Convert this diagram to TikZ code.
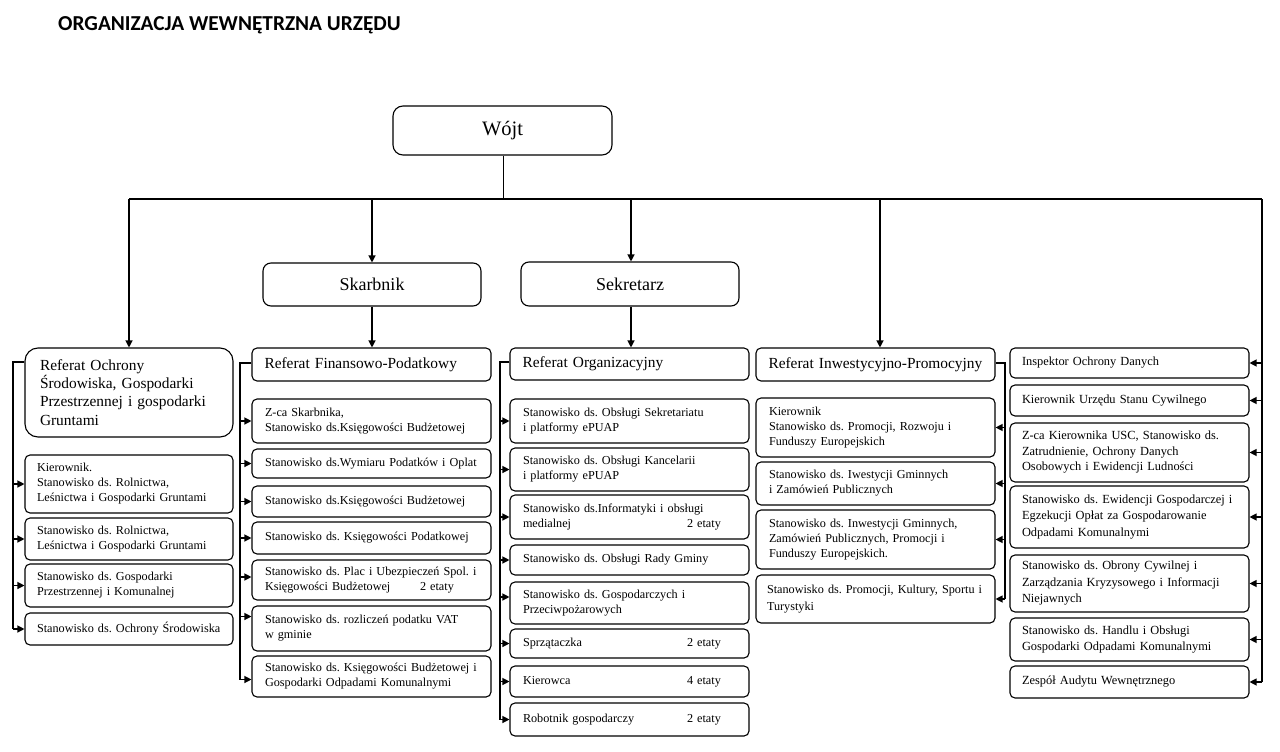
\documentclass[tikz,border=0pt]{standalone}
\usepackage{fontspec}
\setmainfont{Liberation Serif}
\newfontfamily\titlefont{Carlito}
\usetikzlibrary{arrows.meta}
\tikzset{
  bx/.style={draw, line width=1.1pt, rounded corners=5pt, inner ysep=0pt, align=left, anchor=center},
  sub/.style={bx, font=\fontsize{12.2}{15}\selectfont\frenchspacing},
  c1/.style={sub, inner xsep=12pt, text width=184pt},
  cw/.style={sub, inner xsep=13pt, text width=213pt},
  c5/.style={sub, inner xsep=12pt, text width=215pt, font=\fontsize{12.4}{16.5}\selectfont\frenchspacing},
  hdr/.style={bx, inner xsep=12.5pt, text width=214pt, font=\fontsize{15.4}{18.5}\selectfont\frenchspacing},
  topbox/.style={draw, line width=1.1pt, rounded corners=8pt, align=center, inner sep=0pt},
  arr/.style={line width=1.2pt, -{Triangle[length=7pt,width=7pt]}},
  ln/.style={line width=1.1pt},
}
\begin{document}
\begin{tikzpicture}[x=1pt,y=-1pt]
\useasboundingbox (0,0) rectangle (1280,752);
% title
\node[anchor=west, inner sep=0pt, font=\titlefont\bfseries\fontsize{21.3}{25}\selectfont] (title) at (58,25) {ORGANIZACJA WEWNĘTRZNA URZĘDU};

% top level
\node[topbox, minimum width=219pt, minimum height=49pt, rounded corners=10pt, font=\fontsize{20.5}{24}\selectfont] (wojt) at (502.5,130.5) {Wójt};
\node[topbox, minimum width=218pt, minimum height=43pt, font=\fontsize{18}{22}\selectfont] (skarb) at (372,284.5) {Skarbnik};
\node[topbox, minimum width=218pt, minimum height=44pt, font=\fontsize{18}{22}\selectfont] (sekr) at (630,284) {Sekretarz};

% column 1
\node[bx, inner xsep=15pt, text width=178pt, minimum height=89pt, rounded corners=13pt, font=\fontsize{15.4}{18.3}\selectfont] (ref1) at (129,392.5) {Referat Ochrony\\Środowiska, Gospodarki\\Przestrzennej i gospodarki\\Gruntami};
\node[c1, minimum height=58pt] (c1a) at (129,484) {Kierownik.\\Stanowisko ds. Rolnictwa,\\Leśnictwa i Gospodarki Gruntami};
\node[c1, minimum height=42pt] (c1b) at (129,539) {Stanowisko ds. Rolnictwa,\\Leśnictwa i Gospodarki Gruntami};
\node[c1, minimum height=43pt] (c1c) at (129,585.5) {Stanowisko ds. Gospodarki\\Przestrzennej i Komunalnej};
\node[c1, minimum height=32pt] (c1d) at (129,629) {Stanowisko ds. Ochrony Środowiska};

% column 2
\node[hdr, minimum height=33pt] (ref2) at (371.5,364.5) {Referat Finansowo-Podatkowy};
\node[cw, minimum height=44pt] (c2a) at (371.5,421) {Z-ca Skarbnika,\\Stanowisko ds.Księgowości Budżetowej};
\node[cw, minimum height=29pt] (c2b) at (371.5,463.5) {Stanowisko ds.Wymiaru Podatków i Oplat};
\node[cw, minimum height=31pt] (c2c) at (371.5,501.5) {Stanowisko ds.Księgowości Budżetowej};
\node[cw, minimum height=32pt] (c2d) at (371.5,538) {Stanowisko ds. Księgowości Podatkowej};
\node[cw, minimum height=40pt] (c2e) at (371.5,580) {Stanowisko ds. Plac i Ubezpieczeń Spol. i\\Księgowości Budżetowej\hfill\makebox[58pt][l]{2 etaty}};
\node[cw, minimum height=45pt] (c2f) at (371.5,628.5) {Stanowisko ds. rozliczeń podatku VAT\\w gminie};
\node[cw, minimum height=41pt] (c2g) at (371.5,676.5) {Stanowisko ds. Księgowości Budżetowej i\\Gospodarki Odpadami Komunalnymi};

% column 3
\node[hdr, minimum height=32pt] (ref3) at (629.5,364) {Referat Organizacyjny};
\node[cw, minimum height=44pt] (c3a) at (629.5,421) {Stanowisko ds. Obsługi Sekretariatu\\i platformy ePUAP};
\node[cw, minimum height=43pt] (c3b) at (629.5,469.5) {Stanowisko ds. Obsługi Kancelarii\\i platformy ePUAP};
\node[cw, minimum height=44pt] (c3c) at (629.5,517) {Stanowisko ds.Informatyki i obsługi\\medialnej\hfill\makebox[49pt][l]{2 etaty}};
\node[cw, minimum height=30pt] (c3d) at (629.5,560) {Stanowisko ds. Obsługi Rady Gminy};
\node[cw, minimum height=42pt] (c3e) at (629.5,603) {Stanowisko ds. Gospodarczych i\\Przeciwpożarowych};
\node[cw, minimum height=29pt] (c3f) at (629.5,643.5) {Sprzątaczka\hfill\makebox[49pt][l]{2 etaty}};
\node[cw, minimum height=31pt] (c3g) at (629.5,681.5) {Kierowca\hfill\makebox[49pt][l]{4 etaty}};
\node[cw, minimum height=33pt] (c3h) at (629.5,719.5) {Robotnik gospodarczy\hfill\makebox[49pt][l]{2 etaty}};

% column 4
\node[hdr, minimum height=33pt] (ref4) at (875.5,364.5) {Referat Inwestycyjno-Promocyjny};
\node[cw, minimum height=59pt] (c4a) at (875.5,427.5) {Kierownik\\Stanowisko ds. Promocji, Rozwoju i\\Funduszy Europejskich};
\node[cw, minimum height=43pt] (c4b) at (875.5,483.5) {Stanowisko ds. Iwestycji Gminnych\\i Zamówień Publicznych};
\node[cw, minimum height=59pt] (c4c) at (875.5,539.5) {Stanowisko ds. Inwestycji Gminnych,\\Zamówień Publicznych, Promocji i\\Funduszy Europejskich.};
\node[cw, inner xsep=11pt, text width=217pt, minimum height=48pt, font=\fontsize{12.2}{17}\selectfont\frenchspacing] (c4d) at (875.5,599) {Stanowisko ds. Promocji, Kultury, Sportu~i\\Turystyki};

% column 5
\node[c5, minimum height=30pt] (c5a) at (1129.5,363) {Inspektor Ochrony Danych};
\node[c5, minimum height=31pt] (c5b) at (1129.5,400.5) {Kierownik Urzędu Stanu Cywilnego};
\node[c5, minimum height=59pt, font=\fontsize{12.4}{15.5}\selectfont\frenchspacing] (c5c) at (1129.5,452.5) {Z-ca Kierownika USC, Stanowisko ds.\\Zatrudnienie, Ochrony Danych\\Osobowych i Ewidencji Ludności};
\node[c5, minimum height=62pt] (c5d) at (1129.5,517) {Stanowisko ds. Ewidencji Gospodarczej~i\\Egzekucji Opłat za Gospodarowanie\\Odpadami Komunalnymi};
\node[c5, minimum height=57pt] (c5e) at (1129.5,583.5) {Stanowisko ds. Obrony Cywilnej i\\Zarządzania Kryzysowego i Informacji\\Niejawnych};
\node[c5, minimum height=43pt] (c5f) at (1129.5,639.5) {Stanowisko ds. Handlu i Obsługi\\Gospodarki Odpadami Komunalnymi};
\node[c5, minimum height=32pt] (c5g) at (1129.5,682) {Zespół Audytu Wewnętrznego};

% main bus
\coordinate (bw) at (503,199);
\coordinate (bL) at (129,199);
\coordinate (bR) at (1262,199);
\coordinate (b2) at (372,199);
\coordinate (b3) at (631,199);
\coordinate (b4) at (880,199);
\draw[line width=0.9pt] (wojt.south -| bw) -- (bw);
\draw[ln] (bL) -- (bR);
\draw[arr] (bL) -- (ref1.north);
\draw[arr] (b2) -- (skarb.north);
\draw[arr] (b3) -- (b3 |- sekr.north);
\draw[arr] (b4) -- (b4 |- ref4.north);
\draw[arr] (skarb.south) -- (skarb.south |- ref2.north);
\draw[arr] (b3 |- sekr.south) -- (b3 |- ref3.north);

% column 1 bus
\coordinate (L1) at (13,362);
\draw[ln] (ref1.west |- L1) -- (L1) -- (L1 |- c1d.west);
\foreach \n in {c1a,c1b,c1c,c1d} \draw[arr] (L1 |- \n.west) -- (\n.west);

% column 2 bus
\coordinate (L2) at (240,363);
\draw[ln] (ref2.west |- L2) -- (L2) -- (240,680);
\foreach \n in {c2a,c2b,c2c,c2d} \draw[arr] (L2 |- \n.west) -- (\n.west);
\draw[arr] ([yshift=3pt]L2 |- c2e.west) -- ([yshift=3pt]c2e.west);
\draw[arr] ([yshift=12pt]L2 |- c2f.west) -- ([yshift=12pt]c2f.west);
\draw[arr] ([yshift=-3pt]L2 |- c2g.west) -- ([yshift=-3pt]c2g.west);

% column 3 bus
\coordinate (L3) at (500,362);
\draw[ln] (ref3.west |- L3) -- (L3) -- (L3 |- c3h.west);
\foreach \n in {c3a,c3b,c3c,c3d,c3f,c3g,c3h} \draw[arr] (L3 |- \n.west) -- (\n.west);
\draw[arr] ([yshift=6pt]L3 |- c3e.west) -- ([yshift=6pt]c3e.west);

% column 4 bus
\coordinate (L4) at (1005,363);
\draw[ln] (ref4.east |- L4) -- (L4) -- (L4 |- c4d.east);
\foreach \n in {c4a,c4b,c4c,c4d} \draw[arr] (L4 |- \n.east) -- (\n.east);

% column 5 bus
\draw[ln] (bR) -- (bR |- c5g.east);
\foreach \n in {c5a,c5b,c5c,c5d,c5e,c5f,c5g} \draw[arr] (bR |- \n.east) -- (\n.east);
\end{tikzpicture}
\end{document}
